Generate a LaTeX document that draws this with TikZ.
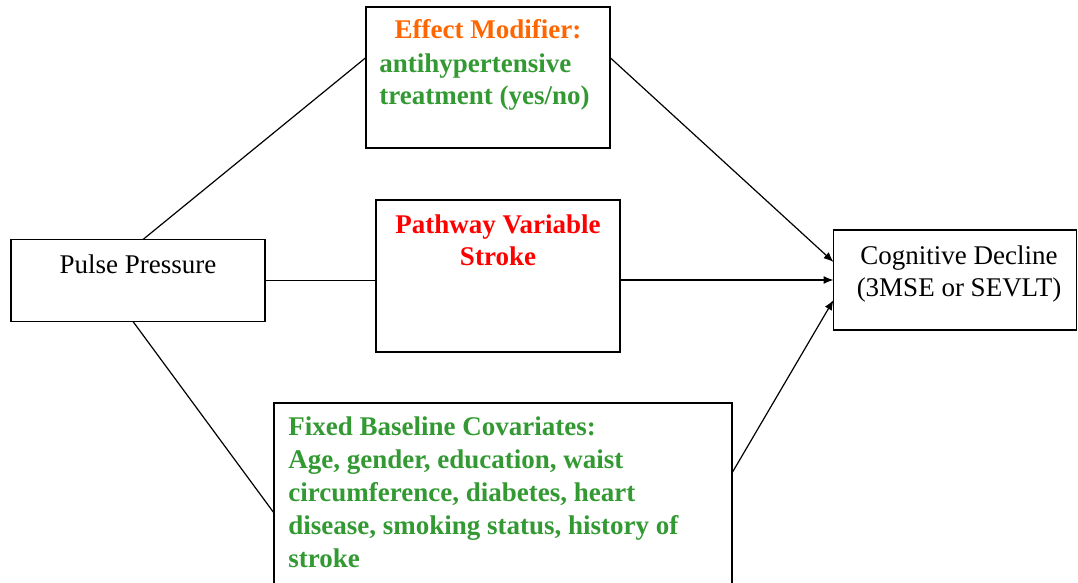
\documentclass[tikz,border=0pt]{standalone}
\usepackage{fontspec}
\setmainfont{Liberation Serif}
\usetikzlibrary{arrows.meta}
\definecolor{modorange}{RGB}{255,102,0}
\definecolor{covgreen}{RGB}{51,153,51}
\definecolor{pathred}{RGB}{255,0,0}
\newcommand\diagfont{\fontsize{13.5pt}{16.5pt}\selectfont}
\tikzset{
  box/.style={draw,line width=.8pt,inner sep=0pt,outer sep=0pt},
  txt/.style={inner sep=0pt,font=\diagfont},
  boldtxt/.style={inner sep=0pt,font=\diagfont\bfseries},
  link/.style={line width=.6pt},
  arr/.style={line width=.6pt,-{Latex[length=5pt,width=4pt]}}
}
\begin{document}
\begin{tikzpicture}[x=.5pt,y=-.5pt]
            \useasboundingbox (0,0) rectangle (1078,583);
            \clip (0,0) rectangle (1078,583);
            %\draw[color=gray!50,dashed] (0,0) grid[step=50] (1078,583);
            \node[box,minimum width=127pt,minimum height=41pt] (pp) at (138,280.5) {};
            \node[box,minimum width=122pt,minimum height=70.5pt] (em) at (488,77.5) {};
            \node[box,minimum width=122pt,minimum height=76pt] (pw) at (498,276) {};
            \node[box,minimum width=121.5pt,minimum height=50pt] (cd) at (955,280) {};
            \node[box,minimum width=229pt,minimum height=108.5pt] (fb) at (503,511.5) {};
            % base of a multi-line text = its last line
            \node[txt,anchor=base] (pptext) at (138,274) {Pulse Pressure};
            \node[boldtxt,anchor=base,modorange] (emtitle) at (488,39) {Effect Modifier:};
            \node[boldtxt,anchor=base west,align=left,covgreen] (emtext) at (379,105) {antihypertensive\\treatment (yes/no)};
            \node[boldtxt,anchor=base,align=center,pathred] (pwtext) at (498,266) {Pathway Variable\\Stroke};
            \node[txt,anchor=base,align=center] (cdtext) at (959,297) {Cognitive Decline\\(3MSE or SEVLT)};
            \node[boldtxt,anchor=base west,align=left,covgreen] (fbtext) at (288,567) {Fixed Baseline Covariates:\\Age, gender, education, waist\\circumference, diabetes, heart\\disease, smoking status, history of\\stroke};
            \draw[link] ([xshift=2.5pt]pp.north)--([yshift=10pt]em.west);
            \draw[link] (pp.east)--(pp.east -| pw.west);
            \draw[link] ([xshift=-2.5pt]pp.south)--([yshift=-55pt]fb.north west);
            \draw[arr] ([yshift=10pt]em.east)--([yshift=9pt]cd.west);
            \draw[arr] (cd.west -| pw.east)--(cd.west);
            \draw[arr] ([yshift=-35pt]fb.north east)--([yshift=-10pt]cd.west);
        \end{tikzpicture}
\end{document}
